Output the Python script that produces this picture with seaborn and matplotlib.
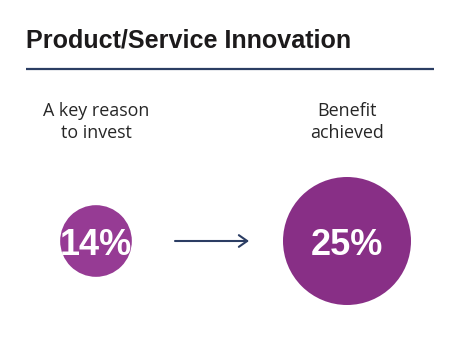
import matplotlib
matplotlib.use("Agg")
import matplotlib.pyplot as plt
import seaborn as sns
import pandas as pd

# ---- data ----
title = "Product/Service Innovation"
categories = ["A key reason\nto invest", "Benefit\nachieved"]
values = [14, 25]
value_labels = ["14%", "25%"]
circle_colors = ["#963B94", "#882F86"]

# ---- layout (pixels, figure is 455x346 at dpi 100) ----
W, H = 455, 346
x_pos = [96, 347]
y_center = 241
px_per_unit = 64 / 25  # radius proportional to value

sns.set_theme(style="white")
plt.rcParams["font.family"] = ["Liberation Sans", "DejaVu Sans"]

fig = plt.figure(figsize=(W / 100, H / 100), dpi=100)
ax = fig.add_axes([0, 0, 1, 1])

df = pd.DataFrame({"x": x_pos, "y": [y_center] * len(values),
                   "value": values, "cat": categories})
# marker size in points^2: diameter in points = 2*r_px*0.72
sizes = {v: (2 * v * px_per_unit * 0.72) ** 2 for v in values}
sns.scatterplot(data=df, x="x", y="y", size="value", sizes=sizes,
                hue="cat", palette=dict(zip(categories, circle_colors)),
                linewidth=0, legend=False, ax=ax)
ax.set_xlim(0, W)
ax.set_ylim(H, 0)
ax.axis("off")

# title + rule
ax.text(26, 47, title, fontsize=18.1, fontweight="bold", color="#1c1a1b",
        ha="left", va="baseline", family="Liberation Sans")
ax.plot([26, 434], [69, 69], color="#2b3d63", lw=1.6, solid_capstyle="butt")

# category labels
for x, cat in zip(x_pos, categories):
    for i, line in enumerate(cat.split("\n")):
        ax.text(x, 116 + 22 * i, line, fontsize=12.9, color="#262626",
                ha="center", va="baseline", family="Open Sans")

# value labels
for x, lab in zip(x_pos, value_labels):
    ax.text(x, y_center + 14, lab, fontsize=26, fontweight="bold",
            color="white", ha="center", va="baseline", family="Liberation Sans")

# arrow
ax.annotate("", xy=(249, y_center), xytext=(175, y_center),
            arrowprops=dict(arrowstyle="->,head_length=0.5,head_width=0.35",
                            color="#2b3d63", lw=1.5, shrinkA=0, shrinkB=0))

fig.savefig("out.png", dpi=100, facecolor="white")
